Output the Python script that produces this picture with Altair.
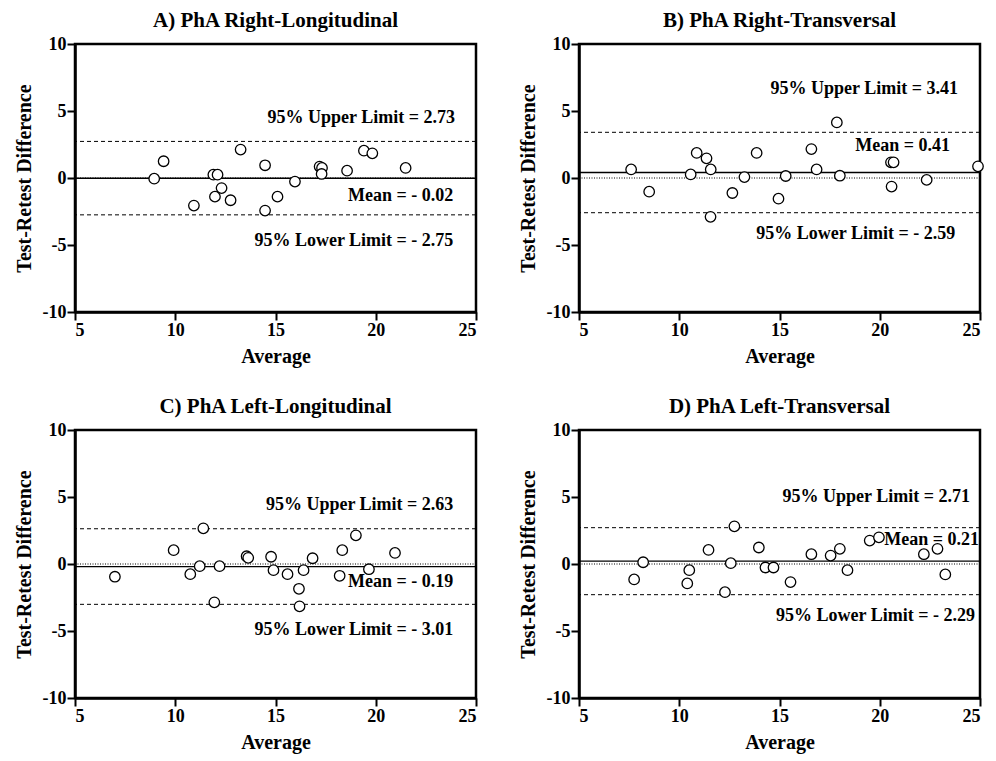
import altair as alt
import pandas as pd

# ---- data ----
titles = ["A) PhA Right-Longitudinal", "B) PhA Right-Transversal",
          "C) PhA Left-Longitudinal", "D) PhA Left-Transversal"]

a_avg = [8.95, 9.42, 13.26, 10.93, 11.9, 12.11, 12.31, 11.98, 12.76, 14.48, 14.48,
         15.1, 15.97, 17.2, 17.32, 17.3, 18.57, 19.41, 19.83, 21.49]
a_diff = [-0.05, 1.25, 2.12, -2.06, 0.25, 0.25, -0.75, -1.39, -1.66, 0.95, -2.43,
          -1.39, -0.27, 0.85, 0.75, 0.3, 0.55, 2.04, 1.84, 0.75]

b_avg = [7.6, 8.5, 10.57, 10.87, 11.36, 11.57, 11.56, 12.65, 13.25, 13.86, 14.95,
         15.31, 16.59, 16.85, 17.86, 18.01, 20.56, 20.69, 20.59, 22.34, 24.9]
b_diff = [0.64, -1.02, 0.27, 1.87, 1.47, 0.64, -2.9, -1.12, 0.07, 1.87, -1.54,
          0.15, 2.16, 0.64, 4.15, 0.17, 1.17, 1.17, -0.64, -0.14, 0.87]

c_avg = [6.99, 9.92, 11.4, 10.75, 11.22, 12.21, 11.95, 13.56, 13.64, 14.78, 14.9,
         15.6, 16.4, 16.17, 16.2, 16.85, 18.2, 18.33, 19.01, 19.66, 20.96]
c_diff = [-0.95, 1.03, 2.66, -0.76, -0.16, -0.16, -2.86, 0.58, 0.46, 0.54, -0.46,
          -0.76, -0.46, -1.85, -3.16, 0.43, -0.88, 1.03, 2.14, -0.39, 0.83]

d_avg = [7.75, 8.2, 10.5, 10.4, 11.46, 12.28, 12.57, 12.75, 13.97, 14.3, 14.7,
         15.55, 16.59, 17.55, 18.01, 18.39, 19.5, 19.96, 22.2, 22.88, 23.27]
d_diff = [-1.15, 0.13, -0.46, -1.45, 1.05, -2.1, 0.06, 2.81, 1.23, -0.26, -0.26,
          -1.35, 0.73, 0.63, 1.13, -0.46, 1.75, 1.99, 0.73, 1.13, -0.78]

means = [-0.02, 0.41, -0.19, 0.21]
uppers = [2.73, 3.41, 2.63, 2.71]
lowers = [-2.75, -2.59, -3.01, -2.29]

upper_labels = ["95% Upper Limit = 2.73", "95% Upper Limit = 3.41",
                "95% Upper Limit = 2.63", "95% Upper Limit = 2.71"]
mean_labels = ["Mean = - 0.02", "Mean = 0.41", "Mean = - 0.19", "Mean = 0.21"]
lower_labels = ["95% Lower Limit = - 2.75", "95% Lower Limit = - 2.59",
                "95% Lower Limit = - 3.01", "95% Lower Limit = - 2.29"]

# annotation anchor positions (data coordinates, right-aligned text)
label_x = [[23.95, 23.87, 23.87], [23.9, 23.5, 23.76],
           [23.87, 23.87, 23.87], [24.5, 24.95, 24.75]]
label_y = [[4.46, -1.37, -4.72], [6.64, 2.39, -4.18],
           [4.42, -1.38, -4.94], [5.02, 1.82, -3.9]]

avgs = [a_avg, b_avg, c_avg, d_avg]
diffs = [a_diff, b_diff, c_diff, d_diff]

FONT = "Liberation Serif"

xscale = alt.Scale(domain=[5, 25], nice=False, zero=False)
yscale = alt.Scale(domain=[-10, 10], nice=False)


def panel(i):
    pts = pd.DataFrame({"avg": avgs[i], "diff": diffs[i]})
    x_enc = alt.X("avg:Q", scale=xscale, title="Average",
                  axis=alt.Axis(values=[5, 10, 15, 20, 25],
                                labelExpr="datum.value + ''"))
    y_enc = alt.Y("diff:Q", scale=yscale, title="Test-Retest Difference",
                  axis=alt.Axis(values=[-10, -5, 0, 5, 10],
                                labelExpr="datum.value + ''"))

    zero = alt.Chart(pd.DataFrame({"y": [0]})).mark_rule(
        color="black", strokeWidth=1, strokeDash=[1, 1.5]).encode(y=alt.Y("y:Q", scale=yscale))
    mean = alt.Chart(pd.DataFrame({"y": [means[i]]})).mark_rule(
        color="black", strokeWidth=1.3).encode(y=alt.Y("y:Q", scale=yscale))
    lims = alt.Chart(pd.DataFrame({"y": [uppers[i], lowers[i]]})).mark_rule(
        color="black", strokeWidth=1, strokeDash=[4, 3]).encode(y=alt.Y("y:Q", scale=yscale))

    points = alt.Chart(pts).mark_point(
        shape="circle", filled=True, fill="white", stroke="black",
        strokeWidth=1.3, size=110, opacity=1).encode(x=x_enc, y=y_enc)

    labs = pd.DataFrame({
        "x": label_x[i], "y": label_y[i],
        "t": [upper_labels[i], mean_labels[i], lower_labels[i]],
    })
    text = alt.Chart(labs).mark_text(
        align="right", baseline="middle", font=FONT, fontWeight="bold",
        fontSize=18, color="black").encode(
        x=alt.X("x:Q", scale=xscale), y=alt.Y("y:Q", scale=yscale), text="t:N")

    return alt.layer(zero, mean, lims, points, text).properties(
        width=401, height=268,
        title=alt.TitleParams(titles[i], font=FONT, fontWeight="bold",
                              fontSize=21, color="black", offset=4))


row1 = alt.hconcat(panel(0), panel(1), spacing=37)
row2 = alt.hconcat(panel(2), panel(3), spacing=37)
chart = alt.vconcat(row1, row2, spacing=26).properties(
    background="white", padding={"left": 4, "top": 0, "right": 0, "bottom": 0}
).configure_view(
    stroke="black", strokeWidth=2.5
).configure_axis(
    grid=False, domainColor="black", domainWidth=2.5, tickColor="black",
    tickWidth=2, tickSize=8, labelFont=FONT, labelFontWeight="bold",
    labelFontSize=18, labelColor="black", titleFont=FONT,
    titleFontWeight="bold", titleFontSize=20, titleColor="black",
    labelPadding=1
).configure_axisX(titlePadding=7).configure_axisY(titlePadding=8)

chart.save("out.html", embed_options={"renderer": "svg", "actions": False})
